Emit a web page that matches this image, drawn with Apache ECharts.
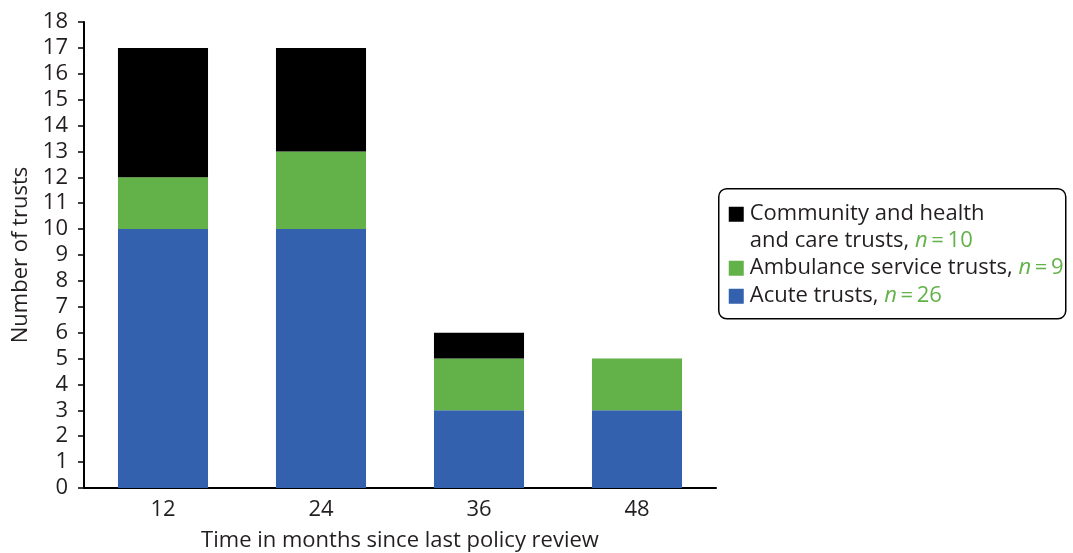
<!DOCTYPE html>
<html><head><meta charset="utf-8">
<script src="https://cdn.jsdelivr.net/npm/echarts@6/dist/echarts.min.js"></script>
<style>html,body{margin:0;padding:0;background:#fff}#c{width:1073px;height:553px}</style>
</head><body><div id="c"></div>
<script>
const categories = ['12', '24', '36', '48'];
const acute = [10, 10, 3, 3];
const ambulance = [2, 3, 2, 2];
const community = [5, 4, 1, 0];
const seriesNames = ['Acute trusts', 'Ambulance service trusts', 'Community and health and care trusts'];
const seriesN = [26, 9, 10];
const yMin = 0, yMax = 18, yStep = 1;
const xTitle = 'Time in months since last policy review';
const yTitle = 'Number of trusts';

const C_BLUE = '#3361ae', C_GREEN = '#63b249', C_BLACK = '#000000', TXT = '#231f20';
const FONT = '"Open Sans", "Noto Sans", sans-serif';
const FS = 22;

const chart = echarts.init(document.getElementById('c'), null, {renderer: 'canvas'});

function bar(name, data, color) {
  return {name, type: 'bar', stack: 'all', data, barWidth: '57%',
    itemStyle: {color}, emphasis: {disabled: true}};
}

const lx = 718, ly = 188;
const rich = {a: {font: FS + 'px ' + FONT, fill: TXT}, n: {font: 'italic ' + FS + 'px ' + FONT, fill: C_GREEN}, e: {font: FS + 'px ' + FONT, fill: C_GREEN}};
function nText(prefix, n) { return '{a|' + prefix + '}{n|n}{e|\u2009=\u2009' + n + '}'; }
const legendGraphic = {
  type: 'group', left: lx, top: ly, children: [
    {type: 'rect', shape: {x: 0, y: 0, width: 347, height: 130, r: 8},
      style: {fill: '#fff', stroke: '#000', lineWidth: 1.5}},
    {type: 'rect', shape: {x: 10, y: 18, width: 15, height: 15}, style: {fill: C_BLACK}},
    {type: 'text', x: 31, y: 25, style: {text: 'Community and health', font: FS + 'px ' + FONT, fill: TXT, verticalAlign: 'middle'}},
    {type: 'text', x: 31, y: 52, style: {text: nText('and care trusts, ', seriesN[2]), verticalAlign: 'middle', rich}},
    {type: 'rect', shape: {x: 10, y: 72, width: 15, height: 15}, style: {fill: C_GREEN}},
    {type: 'text', x: 31, y: 79, style: {text: nText(seriesNames[1] + ', ', seriesN[1]), verticalAlign: 'middle', rich}},
    {type: 'rect', shape: {x: 10, y: 100, width: 15, height: 15}, style: {fill: C_BLUE}},
    {type: 'text', x: 31, y: 107, style: {text: nText(seriesNames[0] + ', ', seriesN[0]), verticalAlign: 'middle', rich}}
  ]
};

chart.setOption({
  animation: false,
  textStyle: {fontFamily: FONT},
  grid: {left: 84, right: 357, top: 22, bottom: 65, containLabel: false, outerBoundsMode: 'none'},
  xAxis: {
    type: 'category', data: categories,
    name: xTitle, nameLocation: 'middle', nameGap: 42,
    nameTextStyle: {fontSize: FS, color: TXT, fontFamily: FONT},
    axisLine: {lineStyle: {color: '#000', width: 2}},
    axisTick: {show: false},
    axisLabel: {fontSize: FS, color: TXT, margin: 11, fontFamily: FONT}
  },
  yAxis: {
    type: 'value', min: yMin, max: yMax, interval: yStep,
    name: yTitle, nameLocation: 'middle', nameGap: 52,
    nameTextStyle: {fontSize: FS, color: TXT, fontFamily: FONT},
    axisLine: {show: true, lineStyle: {color: '#000', width: 2}},
    axisTick: {show: true, length: 6, lineStyle: {color: '#000', width: 1.5}},
    axisLabel: {fontSize: FS, color: TXT, margin: 16, fontFamily: FONT},
    splitLine: {show: false}
  },
  series: [
    bar(seriesNames[0], acute, C_BLUE),
    bar(seriesNames[1], ambulance, C_GREEN),
    bar(seriesNames[2], community, C_BLACK)
  ],
  graphic: [legendGraphic]
});
</script></body></html>
